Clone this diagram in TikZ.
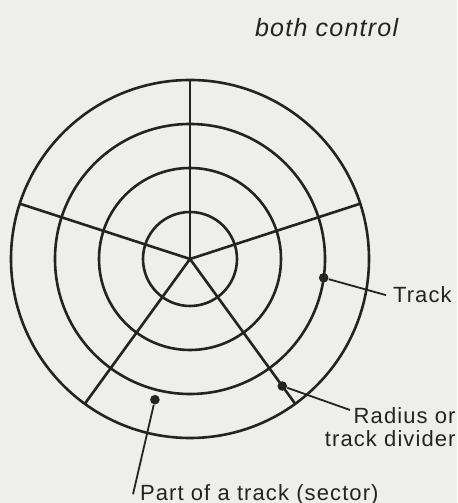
\documentclass[tikz,border=0pt]{standalone}
\usepackage{fontspec}
\setmainfont{Liberation Sans}[LetterSpace=5]
\usetikzlibrary{calc}
\definecolor{paper}{RGB}{238,238,235}
\definecolor{ink}{RGB}{35,35,35}
\tikzset{every picture/.style={x=0.5pt,y=0.5pt}}
\tikzset{point/.style={fill=ink,circle,inner sep=1.7pt}}
\tikzset{track/.style={ink,line width=1.3pt}}
\tikzset{leader/.style={ink,line width=0.9pt}}
\tikzset{lbl/.style={text=ink,font=\fontsize{11}{11.5}\selectfont}}

\begin{document}
\begin{tikzpicture}
    \fill [paper] (0,0) rectangle (457,503);
    \useasboundingbox (0,0) rectangle (457,503);
    \coordinate (C) at (190,244);
    % tracks and radii
    \foreach \r in {179,135,91,47}
        \draw [track] (C) circle (\r);
    \foreach \a in {18,90,162,234,306}
        \draw [track] (C) -- ($(C)+(\a:179)$);
    \node [point] (trk) at ($(C)+(-8:135)$) {};
    \node [point] (rad) at ($(C)+(306:157)$) {};
    \node [point] (sec) at ($(C)+(256:145)$) {};
    \node [lbl,anchor=base west] (tracklbl) at (386,200) {Track};
    \node [lbl,anchor=north east,align=right,inner sep=0pt] (radlbl) at (456,96) {Radius or\\track divider};
    \node [lbl,anchor=base west] (seclbl) at (133,3) {Part of a track (sector)};
    \coordinate (radend) at (350,93);
    \draw [leader] (trk) -- (tracklbl.west);
    \draw [leader] (rad) -- (radend);
    \draw [leader] (sec) -- (seclbl.west);
    \node [anchor=base west,text=ink,font=\fontsize{12.5}{14}\selectfont\itshape] (head) at (248,466) {both control};
\end{tikzpicture}
\end{document}
